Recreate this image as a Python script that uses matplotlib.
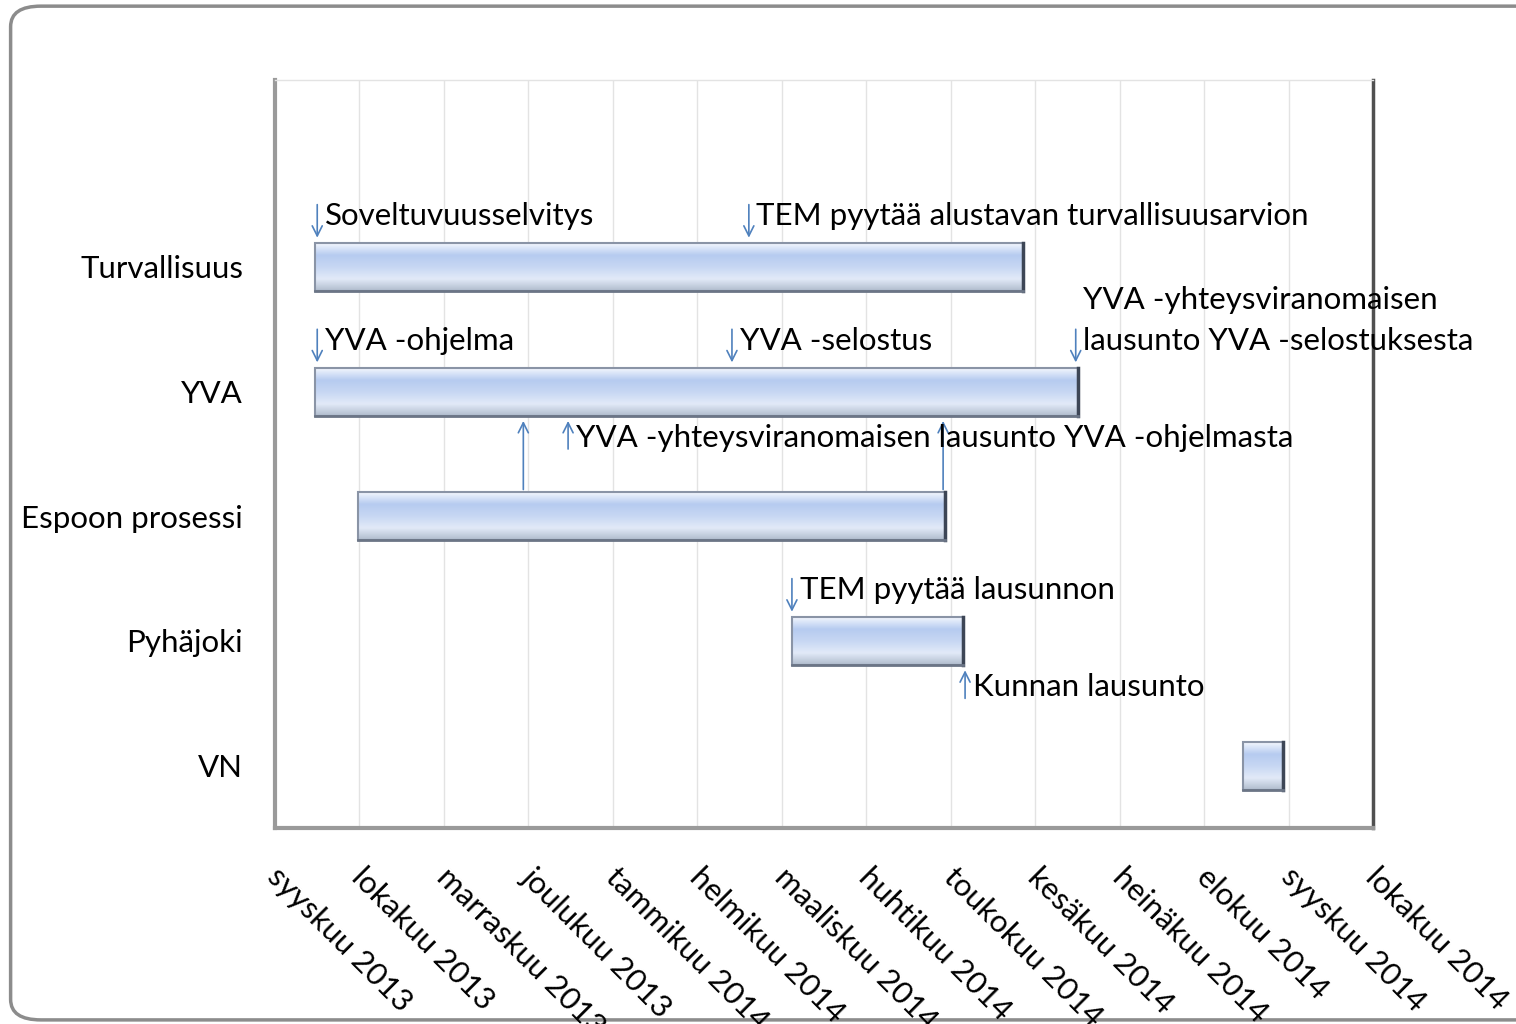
import numpy as np
import matplotlib
matplotlib.use("Agg")
import matplotlib.pyplot as plt
from matplotlib.colors import LinearSegmentedColormap
from matplotlib.patches import Rectangle, FancyBboxPatch

plt.rcParams['font.family'] = ['Lato', 'DejaVu Sans']

# Data (month index: 0 = syyskuu 2013)
months = ["syyskuu 2013", "lokakuu 2013", "marraskuu 2013", "joulukuu 2013",
          "tammikuu 2014", "helmikuu 2014", "maaliskuu 2014", "huhtikuu 2014",
          "toukokuu 2014", "kesäkuu 2014", "heinäkuu 2014", "elokuu 2014",
          "syyskuu 2014", "lokakuu 2014"]
tasks = ["Turvallisuus", "YVA", "Espoon prosessi", "Pyhäjoki", "VN"]
starts = [0.47, 0.47, 0.98, 6.12, 11.46]
ends = [8.86, 9.51, 7.93, 8.15, 11.93]

# milestones: (row, x, text, direction) down = above bar, up = below bar
milestones = [
    (0, 0.50, "Soveltuvuusselvitys", "down"),
    (0, 5.61, "TEM pyytää alustavan turvallisuusarvion", "down"),
    (1, 0.50, "YVA -ohjelma", "down"),
    (1, 5.41, "YVA -selostus", "down"),
    (1, 9.48, "YVA -yhteysviranomaisen\nlausunto YVA -selostuksesta", "down"),
    (1, 3.47, "YVA -yhteysviranomaisen lausunto YVA -ohjelmasta", "up"),
    (3, 6.12, "TEM pyytää lausunnon", "down"),
    (3, 8.17, "Kunnan lausunto", "up"),
]
# links from Espoon prosessi up to YVA
links = [2.94, 7.91]

bar_h = 0.385
arrow_col = "#4F81BD"
fs = 22.5

fig = plt.figure(figsize=(15.16, 10.24), dpi=100)
ax = fig.add_axes([0.1814, 0.1914, 0.9057 - 0.1814, 0.9219 - 0.1914])

# outer rounded frame
frame = FancyBboxPatch((0.007, 0.004), 1.05, 0.99, boxstyle="round,pad=0,rounding_size=0.02",
                       transform=fig.transFigure, fc="white", ec="#8c8c8c", lw=2.5, zorder=-10)
fig.patches.append(frame)

cmap = LinearSegmentedColormap.from_list("bar", ["#f2f6fd", "#b6cbf0", "#c7d7f3", "#e2eaf8", "#b0bccd"])
grad = np.linspace(0, 1, 100).reshape(-1, 1)

for i, (s, e) in enumerate(zip(starts, ends)):
    top = i - bar_h / 2
    bot = i + bar_h / 2
    ax.imshow(grad, cmap=cmap, aspect="auto", extent=(s, e, bot, top), zorder=3, interpolation="bicubic")
    ax.add_patch(Rectangle((s, top), e - s, bar_h, fill=False, ec="#8a94a6", lw=1.5, zorder=4))
    ax.plot([e, e], [top, bot], color="#3d4656", lw=2.5, zorder=4)
    ax.plot([s, e], [bot, bot], color="#6b7586", lw=2, zorder=4)

for row, x, txt, d in milestones:
    if d == "down":
        ax.annotate("", xy=(x, row - bar_h / 2 - 0.02), xytext=(x, row - bar_h / 2 - 0.33),
                    arrowprops=dict(arrowstyle="->", color=arrow_col, lw=1.2, mutation_scale=18), zorder=5)
        dy = 0.57 if "\n" in txt else 0.41
        ax.text(x + 0.09, row - dy, txt, fontsize=fs, ha="left", va="center",
                linespacing=1.6, zorder=6)
    else:
        ax.annotate("", xy=(x, row + bar_h / 2 + 0.02), xytext=(x, row + bar_h / 2 + 0.29),
                    arrowprops=dict(arrowstyle="->", color=arrow_col, lw=1.2, mutation_scale=18), zorder=5)
        ax.text(x + 0.09, row + 0.37, txt, fontsize=fs, ha="left", va="center", zorder=6)

for x in links:
    ax.annotate("", xy=(x, 1 + bar_h / 2 + 0.02), xytext=(x, 2 - bar_h / 2),
                arrowprops=dict(arrowstyle="->", color=arrow_col, lw=1.2, mutation_scale=18), zorder=5)

ax.set_xlim(0, len(months) - 1)
ax.set_ylim(4.5, -1.5)
ax.set_xticks(range(len(months)))
ax.set_xticklabels([])
ax.set_yticks(range(len(tasks)))
ax.set_yticklabels(tasks, fontsize=fs)
ax.tick_params(length=0, pad=23)
ax.grid(axis="x", color="#e3e3e3", lw=1)
ax.set_axisbelow(True)

for i, m in enumerate(months):
    ax.annotate(m, xy=(i, 0), xycoords=("data", "axes fraction"), xytext=(-2, -32),
                textcoords="offset points", rotation=-45, rotation_mode="anchor",
                ha="left", va="center", fontsize=fs, annotation_clip=False)

ax.spines["left"].set_color("#9a9a9a")
ax.spines["left"].set_linewidth(3)
ax.spines["bottom"].set_color("#9a9a9a")
ax.spines["bottom"].set_linewidth(3)
ax.spines["right"].set_color("#505050")
ax.spines["right"].set_linewidth(2.5)
ax.spines["top"].set_color("#e3e3e3")
ax.spines["top"].set_linewidth(1)

fig.savefig("out.png", dpi=100)
